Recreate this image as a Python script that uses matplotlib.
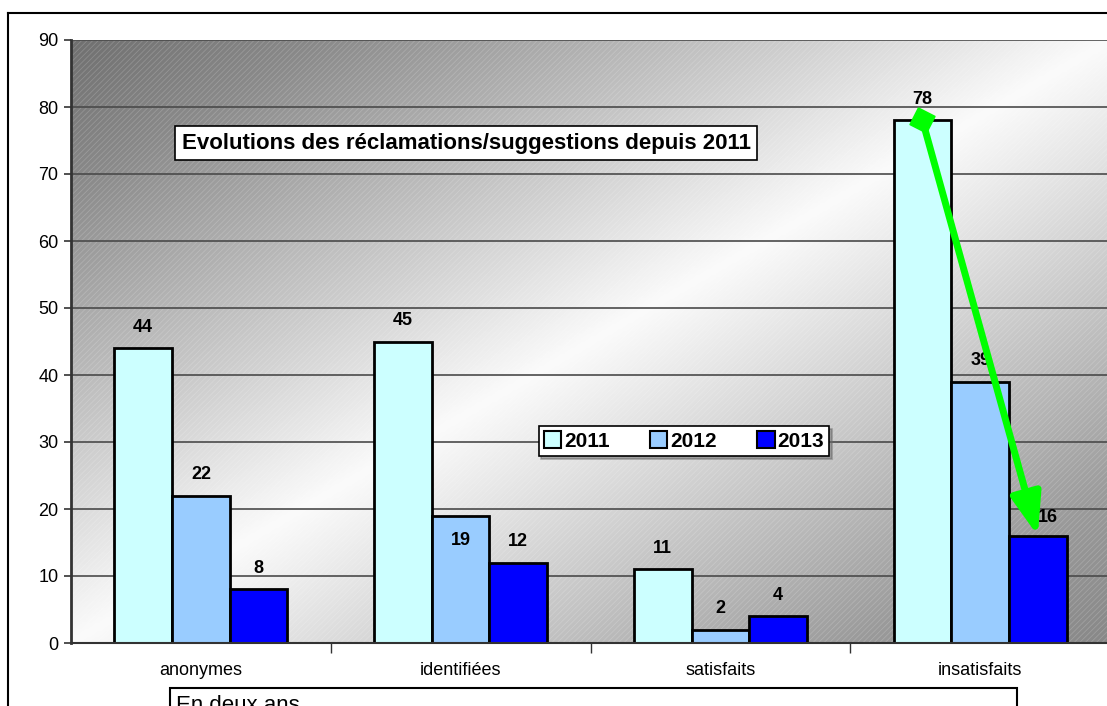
#!/usr/bin/env python
"""Bar chart: evolution of complaints/suggestions since 2011."""

import matplotlib

matplotlib.use("Agg")
import matplotlib.pyplot as plt
import numpy as np
from matplotlib.colors import LinearSegmentedColormap
from matplotlib.lines import Line2D
from matplotlib.patches import Patch, Rectangle

CATEGORIES = ["anonymes", "identifiées", "satisfaits", "insatisfaits"]
YEARS = ["2011", "2012", "2013"]
VALUES_2011 = [44, 45, 11, 78]
VALUES_2012 = [22, 19, 2, 39]
VALUES_2013 = [8, 12, 4, 16]
Y_TICKS = [0, 10, 20, 30, 40, 50, 60, 70, 80, 90]
TITLE = "Evolutions des réclamations/suggestions depuis 2011"
NOTE = "En deux ans"

COLORS = ["#ccffff", "#99ccff", "#0000ff"]
BAR_WIDTH = 0.222
# label offsets in points (dx, dy) where Excel moved a label
LABEL_OFFSETS = {(1, 1): (0, -18), (2, 3): (7, 13)}

plt.rcParams["font.family"] = ["Liberation Sans", "DejaVu Sans"]
plt.rcParams["hatch.linewidth"] = 0.6

fig = plt.figure(figsize=(11.07, 7.06), dpi=100)
ax = fig.add_axes([71 / 1107, 1 - 643 / 706, 1039 / 1107, 603 / 706])

# diagonal gradient background: dark corners, light band in between
grad_cmap = LinearSegmentedColormap.from_list(
    "bg", [(0.0, "#707070"), (0.12, "#8a8a8a"), (0.5, "#fbfbfb"),
           (0.88, "#9a9a9a"), (1.0, "#888888")]
)
u, v = np.meshgrid(np.linspace(0, 1, 400), np.linspace(0, 1, 300))
ax.imshow((u + v) / 2, cmap=grad_cmap, extent=[0, 1, 0, 1], origin="upper",
          transform=ax.transAxes, aspect="auto", zorder=0, interpolation="bilinear")
ax.add_patch(Rectangle((0, 0), 1, 1, transform=ax.transAxes, fill=False,
                       hatch="//////", edgecolor=(1, 1, 1, 0.18), lw=0, zorder=0.5))

x = np.arange(len(CATEGORIES))
series = [VALUES_2011, VALUES_2012, VALUES_2013]
for i, (vals, color) in enumerate(zip(series, COLORS)):
    pos = x + (i - 1) * BAR_WIDTH
    ax.bar(pos, vals, width=BAR_WIDTH, color=color, edgecolor="black",
           linewidth=2, zorder=3)
    for j, (px, val) in enumerate(zip(pos, vals)):
        dx, dy = LABEL_OFFSETS.get((i, j), (0, 15))
        ax.annotate(str(val), (px, val), xytext=(dx, dy), textcoords="offset points",
                    ha="center", va="center", fontsize=13, fontweight="bold",
                    zorder=5)

# green arrow on insatisfaits, 2011 -> 2013
start = (x[3] - BAR_WIDTH, VALUES_2011[3])
end = (x[3] + BAR_WIDTH, VALUES_2013[3])
ax.annotate("", xy=end, xytext=start, zorder=6,
            arrowprops=dict(arrowstyle="-|>,head_length=1.15,head_width=0.42",
                            color="#00ff00", lw=5, shrinkA=0, shrinkB=0,
                            mutation_scale=22))
ax.plot(*start, marker=(4, 0, 18), ms=19, color="#00ff00", zorder=7)

ax.set_xlim(-0.5, len(CATEGORIES) - 0.5)
ax.set_ylim(0, 90)
ax.set_yticks(Y_TICKS)
ax.set_yticklabels([str(t) for t in Y_TICKS], fontsize=13)
ax.yaxis.grid(True, color="#4a4a4a", lw=1.2, zorder=1)
ax.set_axisbelow(False)
ax.tick_params(axis="y", length=5, width=1.2, color="#333333", pad=4)

ax.set_xticks(x)
ax.set_xticklabels(CATEGORIES, fontsize=13)
ax.tick_params(axis="x", length=0, pad=14)
ax.set_xticks(x[:-1] + 0.5, minor=True)
ax.tick_params(axis="x", which="minor", length=7, width=1, color="#333333")

for side in ("top", "right"):
    ax.spines[side].set_visible(False)
ax.spines["left"].set_color("#333333")
ax.spines["left"].set_linewidth(2)
ax.spines["bottom"].set_color("#333333")
ax.spines["bottom"].set_linewidth(1.5)
ax.spines["left"].set_zorder(4)
ax.spines["bottom"].set_zorder(4)

handles = [Patch(facecolor=c, edgecolor="black", lw=1.5) for c in COLORS]
leg = ax.legend(handles, YEARS, ncol=3, loc="center",
                bbox_to_anchor=(0.59, 0.335), frameon=True, fancybox=False,
                prop={"size": 15, "weight": "bold"}, handlelength=0.85,
                handleheight=0.85, handletextpad=0.15, columnspacing=1.9,
                borderpad=0.25, shadow={"color": "#666666", "ox": 2, "oy": -2})
leg.get_frame().set_edgecolor("black")
leg.get_frame().set_linewidth(1.2)
leg.set_zorder(8)

# title box inside the plot area
fig.text(466 / 1107, 1 - 143 / 706, TITLE, ha="center", va="center",
         fontsize=16, fontweight="bold", zorder=9,
         bbox=dict(boxstyle="square,pad=0.3", facecolor="white",
                   edgecolor="black", lw=1.2))

# outer chart frame (runs off the right and bottom edges)
fig.add_artist(Line2D([8 / 1107, 8 / 1107], [0, 1 - 13 / 706],
                      color="black", lw=1.5, transform=fig.transFigure))
fig.add_artist(Line2D([8 / 1107, 1], [1 - 13 / 706, 1 - 13 / 706],
                      color="black", lw=1.5, transform=fig.transFigure))

# "En deux ans" box, cut off by the bottom edge
fig.add_artist(Rectangle((170 / 1107, -0.05), 847 / 1107, 0.05 + 18 / 706,
                         transform=fig.transFigure, facecolor="white",
                         edgecolor="black", lw=1.5))
fig.text(176 / 1107, 1 - 695 / 706, NOTE, ha="left", va="top", fontsize=16)

fig.savefig("out.png", dpi=100)
